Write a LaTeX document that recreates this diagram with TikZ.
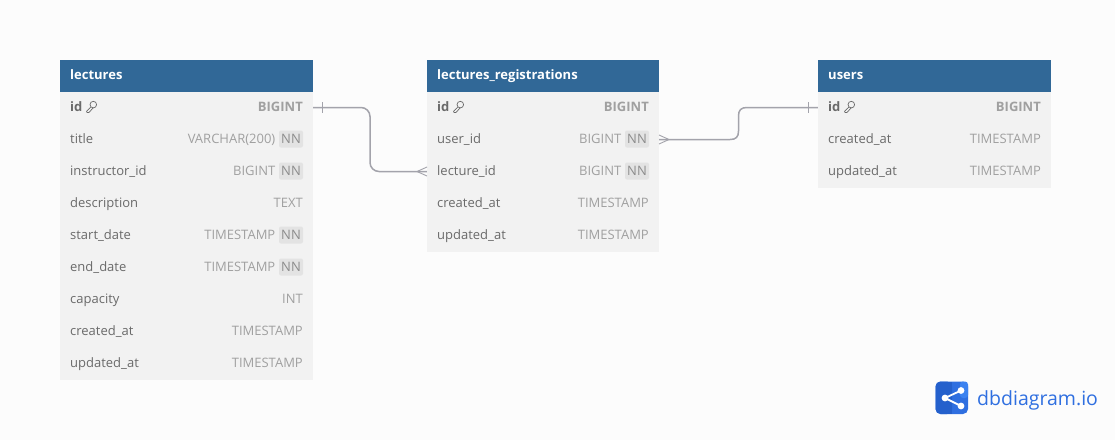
\documentclass[tikz,border=0pt]{standalone}
\usepackage{fontspec}
\setmainfont{Open Sans}
\definecolor{pagebg}{HTML}{FCFCFC}
\definecolor{headblue}{HTML}{316897}
\definecolor{rowbg}{HTML}{F2F2F2}
\definecolor{nametxt}{HTML}{6A6A6A}
\definecolor{typetxt}{HTML}{A0A0A0}
\definecolor{nntxt}{HTML}{8C8C8C}
\definecolor{nnbg}{HTML}{E3E3E3}
\definecolor{linkgrey}{HTML}{A3A3AB}
\definecolor{logoblue}{HTML}{2F6FE0}
\definecolor{logodark}{HTML}{2460CC}
\definecolor{logolight}{HTML}{3B82F0}
\tikzset{
  headbox/.style={fill=headblue,draw=none,inner sep=0pt,minimum height=32pt},
  rowbox/.style={fill=rowbg,draw=none,inner sep=0pt,minimum height=32pt},
  headtxt/.style={text=white,font=\fontsize{13}{15}\selectfont\bfseries,anchor=base west,inner sep=0pt},
  nametext/.style={text=nametxt,font=\fontsize{13}{15}\selectfont,anchor=base west,inner sep=0pt},
  pkname/.style={text=nametxt,font=\fontsize{13}{15}\selectfont\bfseries,anchor=base west,inner sep=0pt},
  typetext/.style={text=typetxt,font=\fontsize{13}{15}\selectfont,anchor=base east,inner sep=0pt},
  pktype/.style={text=typetxt,font=\fontsize{13}{15}\selectfont\bfseries,anchor=base east,inner sep=0pt},
  nnbox/.style={fill=nnbg,rounded corners=2pt,text=nntxt,font=\fontsize{13}{15}\selectfont,inner sep=0pt,minimum width=24pt,minimum height=17pt},
  link/.style={draw=linkgrey,line width=1.5pt},
  mark line/.style={draw=linkgrey,line width=0.9pt},
  keyicon/.style={draw=nametxt,line width=0.7pt}
}
% \tabhead{id}{left}{width}{title}
\newcommand{\tabhead}[4]{%
  \node[headbox,minimum width=#3pt] (#1) at (#2+#3/2,76) {};
  \node[headtxt] at (#2+10,79) {#4};}
% \tabrow{id}{left}{width}{centre y}{name}{type}
\newcommand{\tabrow}[6]{%
  \node[rowbox,minimum width=#3pt] (#1) at (#2+#3/2,#4) {};
  \node[nametext] at (#2+10,#4+3.5) {#5};
  \node[typetext] at (#2+#3-10,#4+3.5) {#6};}
% \nnrow: as tabrow, with an NN badge
\newcommand{\nnrow}[6]{%
  \node[rowbox,minimum width=#3pt] (#1) at (#2+#3/2,#4) {};
  \node[nametext] at (#2+10,#4+3.5) {#5};
  \node[nnbox] (#1nn) at (#2+#3-22,#4-1) {NN};
  \node[typetext] at (#2+#3-37.5,#4+3.5) {#6};}
% \pkrow: primary key row, with key icon
\newcommand{\pkrow}[6]{%
  \node[rowbox,minimum width=#3pt] (#1) at (#2+#3/2,#4) {};
  \node[pkname] (#1name) at (#2+10,#4+3.5) {#5};
  \node[pktype] at (#2+#3-10,#4+3.5) {#6};
  \draw[keyicon] (#2+33.3,#4-3.4) circle (3.3pt);
  \draw[keyicon] (#2+31,#4-1) -- (#2+26.6,#4+3.3) -- (#2+27,#4+4.4) -- (#2+29,#4+4.4) -- (#2+33,#4+0.1);}
\begin{document}
\begin{tikzpicture}[x=1pt,y=-1pt]
\useasboundingbox (0,0) rectangle (1115,440);
\fill[pagebg] (0,0) rectangle (1115,440);
% lectures
\tabhead{lec}{60}{253}{lectures}
\pkrow{lecid}{60}{253}{108}{id}{BIGINT}
\nnrow{lectitle}{60}{253}{140}{title}{VARCHAR(200)}
\nnrow{lecinstr}{60}{253}{172}{instructor\_id}{BIGINT}
\tabrow{lecdesc}{60}{253}{204}{description}{TEXT}
\nnrow{lecstart}{60}{253}{236}{start\_date}{TIMESTAMP}
\nnrow{lecend}{60}{253}{268}{end\_date}{TIMESTAMP}
\tabrow{leccap}{60}{253}{300}{capacity}{INT}
\tabrow{leccre}{60}{253}{332}{created\_at}{TIMESTAMP}
\tabrow{lecupd}{60}{253}{364}{updated\_at}{TIMESTAMP}
% lectures_registrations
\tabhead{reg}{427}{232}{lectures\_registrations}
\pkrow{regid}{427}{232}{108}{id}{BIGINT}
\nnrow{reguser}{427}{232}{140}{user\_id}{BIGINT}
\nnrow{reglec}{427}{232}{172}{lecture\_id}{BIGINT}
\tabrow{regcre}{427}{232}{204}{created\_at}{TIMESTAMP}
\tabrow{regupd}{427}{232}{236}{updated\_at}{TIMESTAMP}
% users
\tabhead{usr}{818}{233}{users}
\pkrow{usrid}{818}{233}{108}{id}{BIGINT}
\tabrow{usrcre}{818}{233}{140}{created\_at}{TIMESTAMP}
\tabrow{usrupd}{818}{233}{172}{updated\_at}{TIMESTAMP}
% connector lectures.id -- registrations.lecture_id
\draw[link,rounded corners=9pt] ([yshift=0.5pt]lecid.east) -- (370,107.5) -- (370,171.5) -- ([yshift=0.5pt]reglec.west);
\draw[mark line] (322.5,102) -- (322.5,113);
\draw[mark line] (417,171.5) -- (427,167);
\draw[mark line] (417,171.5) -- (427,176);
% connector registrations.user_id -- users.id
\draw[link] ([yshift=0.5pt]reguser.east) -- (730,139.5) .. controls (736,139.5) and (738.5,137) .. (738.5,131) -- (738.5,116) .. controls (738.5,110) and (741,107.5) .. (747,107.5) -- ([yshift=0.5pt]usrid.west);
\draw[mark line] (808,102) -- (808,113);
\draw[mark line] (669,139.5) -- (659,135);
\draw[mark line] (669,139.5) -- (659,144);
% logo
\fill[logoblue,rounded corners=5pt] (935.5,381.5) rectangle (968,414);
\fill[logodark,rounded corners=5pt] (935.5,381.5) rectangle (952,414);
\fill[logodark] (947,381.5) rectangle (952,414);
\fill[logolight,rounded corners=3pt] (960,381.5) rectangle (968,398);
\draw[white,line width=1.8pt] (961,390.5) -- (945,398) -- (961,406);
\fill[white] (961,390.5) circle (3.4pt) (945,398) circle (3.4pt) (961,406) circle (3.4pt);
\node[text=logoblue,font=\fontsize{19.5}{24}\selectfont,anchor=base west,inner sep=0pt] (logotext) at (977,405) {dbdiagram.io};
\end{tikzpicture}
\end{document}
